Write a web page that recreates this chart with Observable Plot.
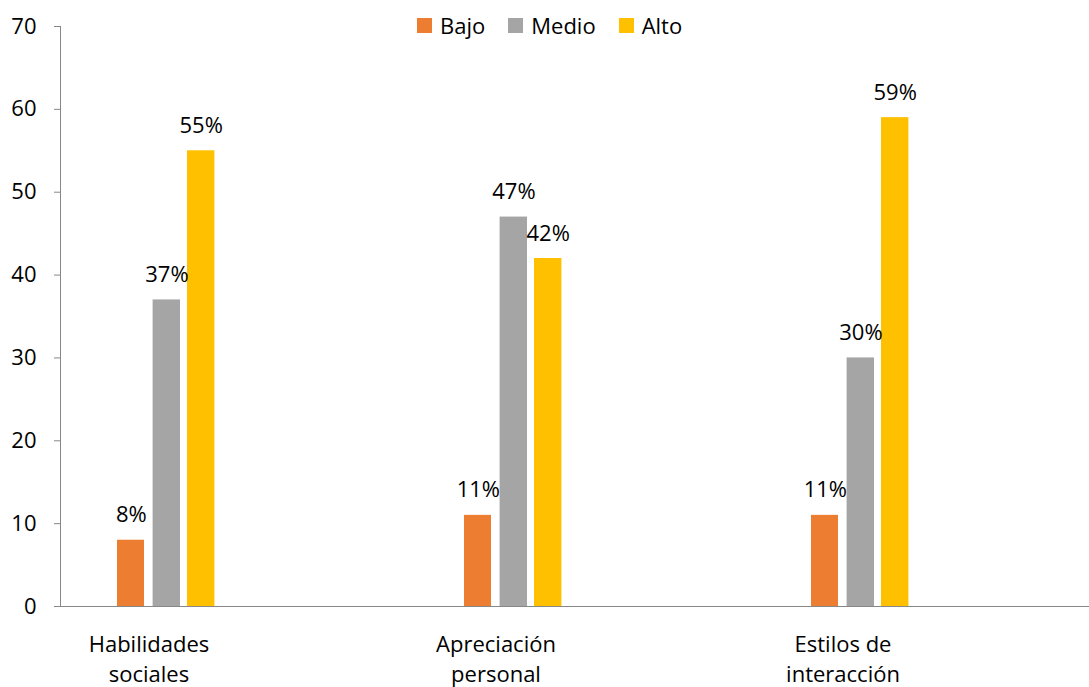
<!DOCTYPE html>
<html>
<head>
<meta charset="utf-8">
<script src="https://cdn.jsdelivr.net/npm/d3@7"></script>
<script src="https://cdn.jsdelivr.net/npm/@observablehq/plot@0.6"></script>
<style>
  html, body { margin: 0; padding: 0; background: #fff; }
  #wrap { position: relative; width: 1089px; height: 687px; font-family: "Open Sans", Lato, sans-serif; }
  #legend { position: absolute; top: 10px; left: 417px; display: flex; align-items: center; font-size: 22px; color: #000; }
  #legend .item { display: flex; align-items: center; margin-right: 23px; }
  #legend .sw { width: 15px; height: 15px; margin-right: 8px; }
</style>
</head>
<body>
<div id="wrap"><div id="legend"></div></div>
<script>
const categories = ["Habilidades sociales", "Apreciación personal", "Estilos de interacción"];
const tickLabels = ["Habilidades\nsociales", "Apreciación\npersonal", "Estilos de\ninteracción"];
const series = ["Bajo", "Medio", "Alto"];
const colors = ["#ED7D31", "#A5A5A5", "#FFC000"];
const bajo = [8, 11, 11];
const medio = [37, 47, 30];
const alto = [55, 42, 59];
const yTicks = [0, 10, 20, 30, 40, 50, 60, 70];

const values = [bajo, medio, alto];
const data = [];
series.forEach((s, si) => categories.forEach((c, ci) => data.push({category: c, series: s, value: values[si][ci]})));

// bar placement within each category band (insets in px)
const insets = {
  Bajo:  {insetLeft: 142, insetRight: 178, dx: -17.7},
  Medio: {insetLeft: 177.6, insetRight: 142, dx: 17.9},
  Alto:  {insetLeft: 212, insetRight: 107.6, dx: 52.2}
};

const barMarks = series.map((s, i) => Plot.barY(data.filter(d => d.series === s), {
  x: "category", y: "value", fill: colors[i], insetLeft: insets[s].insetLeft, insetRight: insets[s].insetRight
}));
const labelMarks = series.map((s) => Plot.text(data.filter(d => d.series === s), {
  x: "category", y: "value", text: d => d.value + "%", dx: insets[s].dx, dy: -25,
  fontSize: 22, fill: "#000"
}));

// y axis line at the left edge of the frame, from the y scale
const yAxisLine = (index, scales, values, dimensions) => {
  const x = dimensions.marginLeft - 0.5;
  const line = d3.create("svg:line")
    .attr("x1", x).attr("x2", x)
    .attr("y1", scales.y(0)).attr("y2", scales.y(70))
    .attr("stroke", "#888");
  return line.node();
};

const chart = Plot.plot({
  width: 1089,
  height: 687,
  marginLeft: 61,
  marginRight: 0,
  marginTop: 26,
  marginBottom: 81,
  style: {fontFamily: "'Open Sans', Lato, sans-serif", fontSize: "22px", color: "#000", background: "#fff"},
  x: {domain: categories, range: [-26.1, 1017.3], padding: 0},
  y: {domain: [0, 70], ticks: yTicks},
  marks: [
    ...barMarks,
    ...labelMarks,
    Plot.ruleY([0], {stroke: "#888"}),
    Plot.axisY({ticks: yTicks, tickSize: 7, tickPadding: 18, stroke: "#888", fill: "#000", fontSize: 22, label: null}),
    yAxisLine,
    Plot.axisX({tickSize: 0, tickPadding: 24, fontSize: 22, lineHeight: 1.38, fill: "#000", label: null,
      tickFormat: d => tickLabels[categories.indexOf(d)]})
  ]
});
document.getElementById("wrap").prepend(chart);

const legend = document.getElementById("legend");
series.forEach((s, i) => {
  const it = document.createElement("div");
  it.className = "item";
  it.innerHTML = `<span class="sw" style="background:${colors[i]}"></span><span>${s}</span>`;
  legend.appendChild(it);
});
</script>
</body>
</html>
